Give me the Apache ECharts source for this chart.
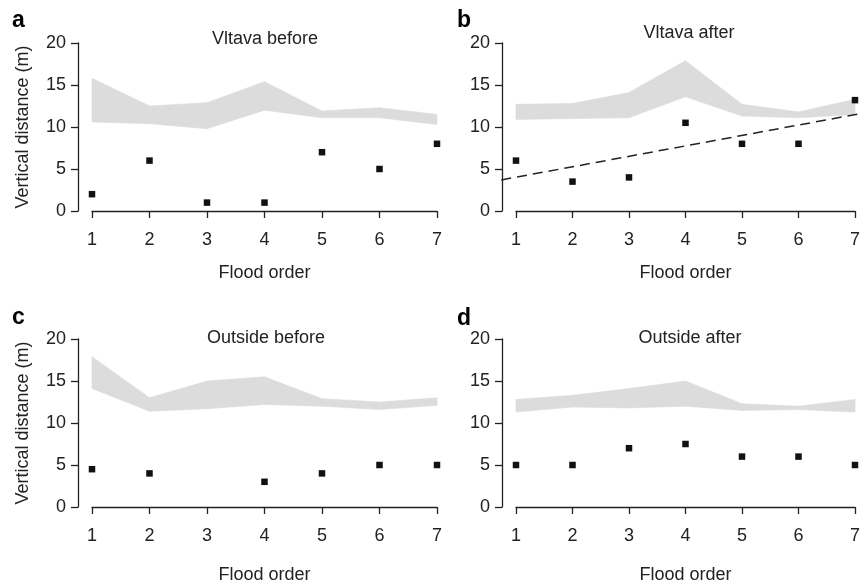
<!DOCTYPE html>
<html>
<head>
<meta charset="utf-8">
<script src="https://cdn.jsdelivr.net/npm/echarts@6/dist/echarts.min.js"></script>
<style>
  html, body { margin: 0; padding: 0; background: #fff; }
  #main { width: 863px; height: 585px; }
</style>
</head>
<body>
<div id="main"></div>
<script>
// flood order on the x axis
const floodOrder = [1, 2, 3, 4, 5, 6, 7];
const yTicks = [0, 5, 10, 15, 20];

// a: Vltava before
const vltavaBeforeLow = [10.6, 10.4, 9.8, 12.0, 11.1, 11.1, 10.3];
const vltavaBeforeHigh = [15.8, 12.5, 12.9, 15.4, 11.9, 12.3, 11.5];
const vltavaBeforeX = [1, 2, 3, 4, 5, 6, 7];
const vltavaBeforePts = [2, 6, 1, 1, 7, 5, 8];

// b: Vltava after
const vltavaAfterLow = [10.9, 11.0, 11.1, 13.6, 11.3, 11.1, 11.5];
const vltavaAfterHigh = [12.7, 12.8, 14.1, 17.9, 12.7, 11.8, 13.3];
const vltavaAfterX = [1, 2, 3, 4, 5, 6, 7];
const vltavaAfterPts = [6, 3.5, 4, 10.5, 8, 8, 13.2];
// fitted trend line (dashed), end points
const trendX = [0.74, 7.26];
const trendY = [3.7, 11.8];

// c: Outside before (no point at 3)
const outsideBeforeLow = [14.1, 11.4, 11.7, 12.2, 12.0, 11.6, 12.1];
const outsideBeforeHigh = [17.9, 13.0, 15.0, 15.5, 12.9, 12.5, 13.0];
const outsideBeforeX = [1, 2, 4, 5, 6, 7];
const outsideBeforePts = [4.5, 4, 3, 4, 5, 5];

// d: Outside after
const outsideAfterLow = [11.3, 11.9, 11.8, 12.0, 11.5, 11.6, 11.3];
const outsideAfterHigh = [12.8, 13.3, 14.1, 15.0, 12.3, 12.0, 12.8];
const outsideAfterX = [1, 2, 3, 4, 5, 6, 7];
const outsideAfterPts = [5, 5, 7, 7.5, 6, 6, 5];

const panelTitles = ['Vltava before', 'Vltava after', 'Outside before', 'Outside after'];
const panelLetters = ['a', 'b', 'c', 'd'];

const FONT = '"Liberation Sans", Arial, Helvetica, sans-serif';
const INK = '#222';
const BAND = '#dcdcdc';

const panels = [
  {low: vltavaBeforeLow, high: vltavaBeforeHigh, px: vltavaBeforeX, py: vltavaBeforePts, yName: true},
  {low: vltavaAfterLow, high: vltavaAfterHigh, px: vltavaAfterX, py: vltavaAfterPts, yName: false, trend: true},
  {low: outsideBeforeLow, high: outsideBeforeHigh, px: outsideBeforeX, py: outsideBeforePts, yName: true},
  {low: outsideAfterLow, high: outsideAfterHigh, px: outsideAfterX, py: outsideAfterPts, yName: false}
];

// layout
const grids = [
  {left: 92, top: 43, width: 345, height: 168},
  {left: 516, top: 43, width: 345, height: 168},
  {left: 92, top: 339, width: 345, height: 168},
  {left: 516, top: 339, width: 345, height: 168}
];
const xNameGaps = [47, 47, 53, 53];
const titlePos = [[265, 39], [689, 33.5], [266, 338.5], [690, 338.5]];
const letterPos = [[12, 21], [457, 21], [12, 318], [457, 319]];

// band segment between two flood orders: [x0, x1, low0, low1, high0, high1]
function bandRender(params, api) {
  const x0 = api.value(0), x1 = api.value(1);
  const pts = [
    api.coord([x0, api.value(4)]),
    api.coord([x1, api.value(5)]),
    api.coord([x1, api.value(3)]),
    api.coord([x0, api.value(2)])
  ];
  return {
    type: 'polygon',
    shape: {points: pts},
    style: {fill: BAND, stroke: BAND, lineWidth: 0.6}
  };
}

// trend line may run past the plotted range, so draw it unclipped
function trendRender(params, api) {
  const a = api.coord([api.value(0), api.value(1)]);
  const b = api.coord([api.value(2), api.value(3)]);
  return {
    type: 'line',
    shape: {x1: a[0], y1: a[1], x2: b[0], y2: b[1]},
    style: {stroke: INK, lineWidth: 1.5, lineDash: [10, 6], fill: null}
  };
}

const xAxes = [];
const yAxes = [];
const series = [];

panels.forEach(function (p, i) {
  xAxes.push({
    gridIndex: i,
    type: 'value',
    min: floodOrder[0],
    max: floodOrder[floodOrder.length - 1],
    interval: 1,
    offset: 6,
    name: 'Flood order',
    nameLocation: 'middle',
    nameGap: xNameGaps[i],
    nameTextStyle: {color: INK, fontSize: 18, fontFamily: FONT},
    axisLine: {lineStyle: {color: INK, width: 1.3}},
    axisTick: {length: 7, lineStyle: {color: INK, width: 1.3}},
    axisLabel: {color: INK, fontSize: 18, fontFamily: FONT, margin: 14},
    splitLine: {show: false}
  });
  yAxes.push({
    gridIndex: i,
    type: 'value',
    min: yTicks[0],
    max: yTicks[yTicks.length - 1],
    interval: 5,
    offset: 14,
    name: p.yName ? 'Vertical distance (m)' : '',
    nameLocation: 'middle',
    nameGap: 46,
    nameTextStyle: {color: INK, fontSize: 18, fontFamily: FONT},
    axisLine: {show: true, lineStyle: {color: INK, width: 1.3}},
    axisTick: {show: true, length: 7, lineStyle: {color: INK, width: 1.3}},
    axisLabel: {color: INK, fontSize: 18, fontFamily: FONT, margin: 12},
    splitLine: {show: false}
  });

  const segs = [];
  for (let k = 0; k < floodOrder.length - 1; k++) {
    segs.push([floodOrder[k], floodOrder[k + 1], p.low[k], p.low[k + 1], p.high[k], p.high[k + 1]]);
  }
  series.push({
    type: 'custom',
    xAxisIndex: i, yAxisIndex: i,
    renderItem: bandRender,
    encode: {x: [0, 1], y: [2, 3, 4, 5]},
    data: segs,
    silent: true,
    z: 1
  });

  if (p.trend) {
    series.push({
      type: 'custom',
      xAxisIndex: i, yAxisIndex: i,
      renderItem: trendRender,
      clip: false,
      encode: {x: [0, 2], y: [1, 3]},
      data: [[trendX[0], trendY[0], trendX[1], trendY[1]]],
      silent: true,
      z: 3
    });
  }

  series.push({
    type: 'scatter',
    xAxisIndex: i, yAxisIndex: i,
    data: p.px.map((x, k) => [x, p.py[k]]),
    symbol: 'rect',
    symbolSize: 6.5,
    clip: false,
    itemStyle: {color: '#111', opacity: 1},
    z: 4
  });
});

const graphics = [];
panelTitles.forEach(function (t, i) {
  graphics.push({
    type: 'text',
    x: titlePos[i][0], y: titlePos[i][1],
    style: {text: t, fill: INK, font: '18px ' + FONT, textAlign: 'center', textVerticalAlign: 'middle'}
  });
  graphics.push({
    type: 'text',
    x: letterPos[i][0], y: letterPos[i][1],
    style: {text: panelLetters[i], fill: '#000', font: 'bold 23px ' + FONT, textAlign: 'left', textVerticalAlign: 'middle'}
  });
});

const chart = echarts.init(document.getElementById('main'), null, {renderer: 'canvas'});
chart.setOption({
  animation: false,
  backgroundColor: '#fff',
  grid: grids,
  xAxis: xAxes,
  yAxis: yAxes,
  series: series,
  graphic: graphics
});
</script>
</body>
</html>
